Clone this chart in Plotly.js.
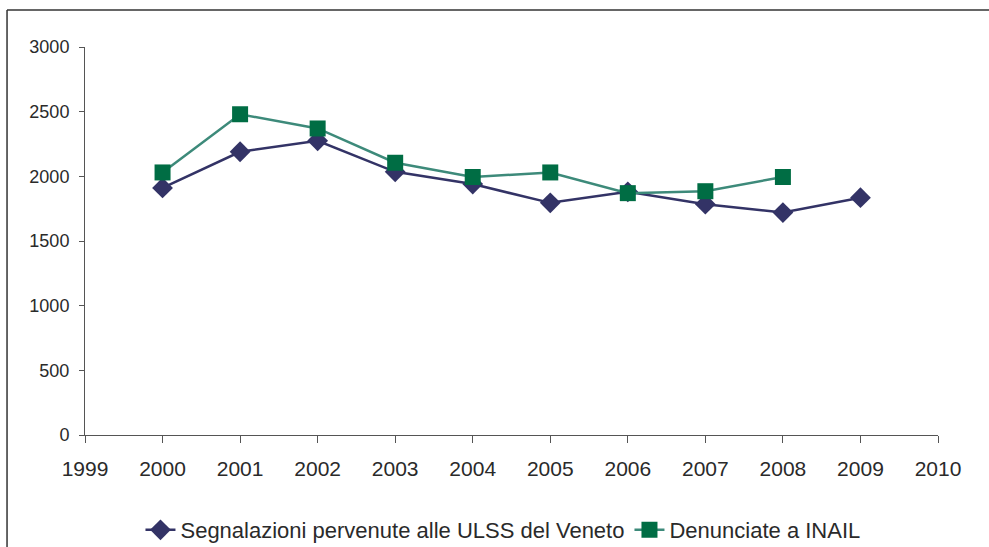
<!DOCTYPE html>
<html>
<head>
<meta charset="utf-8">
<script src="https://cdn.plot.ly/plotly-3.0.1.min.js"></script>
<style>
html,body{margin:0;padding:0;background:#fff;}
#chart{width:989px;height:547px;}
</style>
</head>
<body>
<div id="chart"></div>
<script>
var years = [2000, 2001, 2002, 2003, 2004, 2005, 2006, 2007, 2008, 2009];
var yearsInail = [2000, 2001, 2002, 2003, 2004, 2005, 2006, 2007, 2008];
var segnalazioniULSS = [1910, 2190, 2275, 2035, 1940, 1795, 1880, 1785, 1720, 1835];
var denunciateINAIL = [2030, 2480, 2370, 2105, 1995, 2030, 1870, 1885, 1995];
var xTicks = [1999, 2000, 2001, 2002, 2003, 2004, 2005, 2006, 2007, 2008, 2009, 2010];
var yTicks = [0, 500, 1000, 1500, 2000, 2500, 3000];
var seriesNames = ["Segnalazioni pervenute alle ULSS del Veneto", "Denunciate a INAIL"];

var traces = [
  {
    x: years, y: segnalazioniULSS, name: seriesNames[0],
    type: 'scatter', mode: 'lines+markers',
    line: {color: '#333366', width: 2.5},
    marker: {symbol: 'diamond', size: 16, color: '#333366'}
  },
  {
    x: yearsInail, y: denunciateINAIL, name: seriesNames[1],
    type: 'scatter', mode: 'lines+markers',
    line: {color: '#3d8a7a', width: 2.5},
    marker: {symbol: 'square', size: 16, color: '#006d44'}
  }
];

var layout = {
  width: 989, height: 547,
  margin: {l: 85, r: 51, t: 47, b: 112, autoexpand: false},
  paper_bgcolor: '#ffffff', plot_bgcolor: '#ffffff',
  font: {family: '"Liberation Sans", Arial, sans-serif', size: 18, color: '#2a2a2a'},
  showlegend: true,
  legend: {
    orientation: 'h', x: 0.49, xanchor: 'center', y: -0.245, yanchor: 'middle',
    font: {size: 22, color: '#2a2a2a'}, traceorder: 'normal'
  },
  xaxis: {
    range: [1999, 2010], tickmode: 'array', tickvals: xTicks, automargin: false,
    ticktext: xTicks.map(String), tickfont: {size: 21},
    showgrid: false, zeroline: false, showline: true, linecolor: '#555555', linewidth: 1,
    ticks: 'outside', ticklen: 7, tickcolor: '#555555', ticklabelstandoff: 8
  },
  yaxis: {
    range: [0, 3000], tickmode: 'array', tickvals: yTicks, tickfont: {size: 18}, automargin: false,
    showgrid: false, zeroline: false, showline: true, linecolor: '#555555', linewidth: 1,
    ticks: 'outside', ticklen: 5, tickcolor: '#555555', ticklabelstandoff: 6
  },
  shapes: [
    {type: 'line', xref: 'paper', yref: 'paper', x0: -0.0914, x1: 1.1, y0: 1.0954, y1: 1.0954,
     line: {color: '#333333', width: 1.5}},
    {type: 'line', xref: 'paper', yref: 'paper', x0: -0.0914, x1: -0.0914, y0: 1.0954, y1: -0.4,
     line: {color: '#333333', width: 1.5}}
  ]
};

Plotly.newPlot('chart', traces, layout, {displayModeBar: false, staticPlot: true});
</script>
</body>
</html>
